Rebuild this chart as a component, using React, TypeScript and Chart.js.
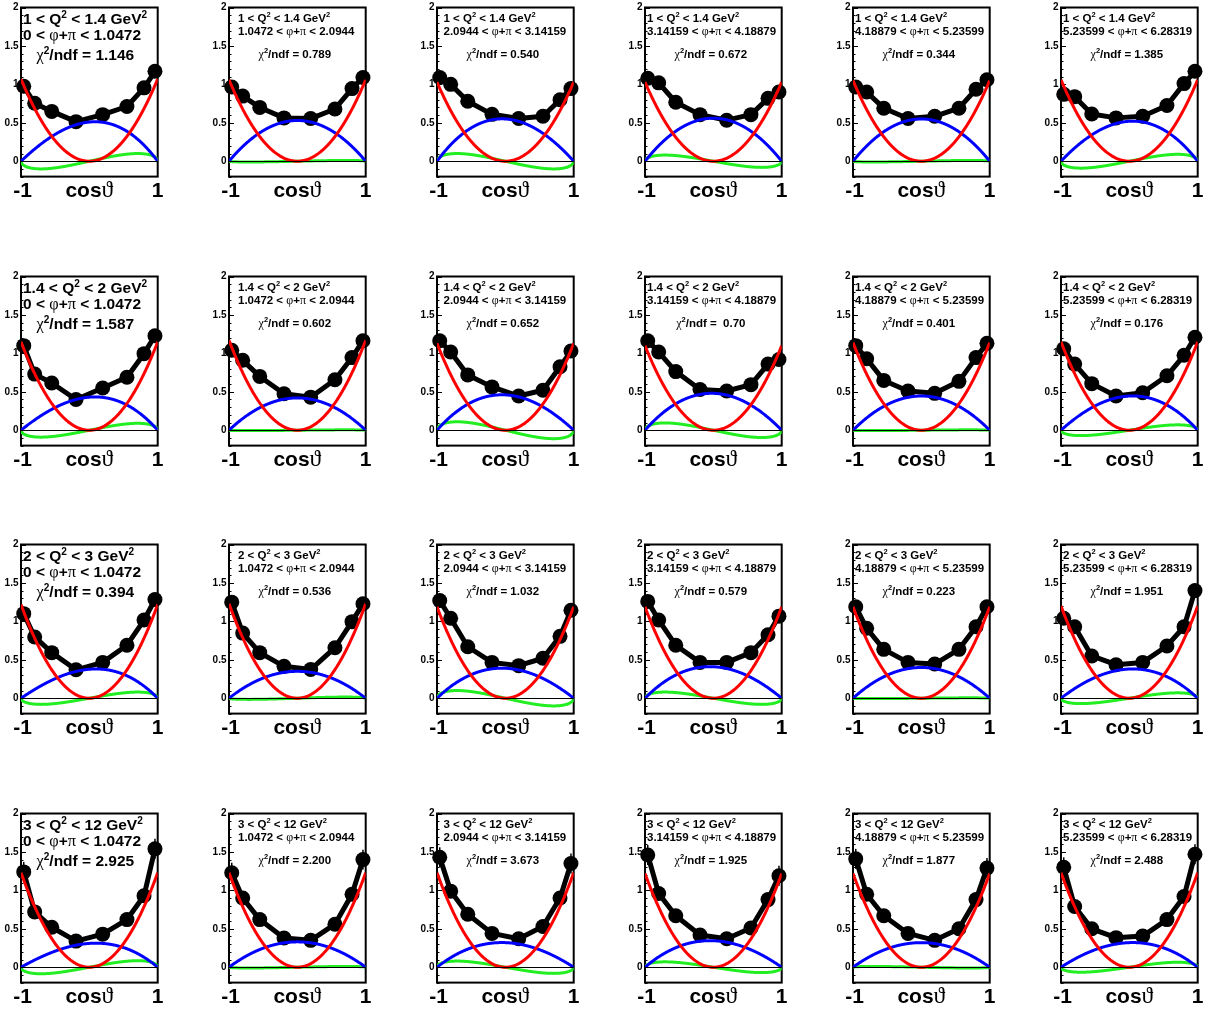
import React, { useEffect, useRef } from "react";
import { Chart, registerables } from "chart.js";

Chart.register(...registerables);

// ---------------- data ----------------
const cosThetaBins = [-0.96, -0.8, -0.55, -0.195, 0.195, 0.55, 0.8, 0.96];

const q2Labels = [
  "1 < Q^{2} < 1.4 GeV^{2}",
  "1.4 < Q^{2} < 2 GeV^{2}",
  "2 < Q^{2} < 3 GeV^{2}",
  "3 < Q^{2} < 12 GeV^{2}",
];
const phiLabels = [
  "0 < φ+π < 1.0472",
  "1.0472 < φ+π < 2.0944",
  "2.0944 < φ+π < 3.14159",
  "3.14159 < φ+π < 4.18879",
  "4.18879 < φ+π < 5.23599",
  "5.23599 < φ+π < 6.28319",
];

const chi2Q1 = ["1.146", "0.789", "0.540", "0.672", "0.344", "1.385"];
const chi2Q2 = ["1.587", "0.602", "0.652", " 0.70", "0.401", "0.176"];
const chi2Q3 = ["0.394", "0.536", "1.032", "0.579", "0.223", "1.951"];
const chi2Q4 = ["2.925", "2.200", "3.673", "1.925", "1.877", "2.488"];

// measured yields, one array per phi bin
const pointsQ1 = [
  [0.975, 0.754, 0.648, 0.515, 0.606, 0.712, 0.955, 1.17],
  [0.966, 0.847, 0.7, 0.564, 0.555, 0.68, 0.945, 1.09],
  [1.09, 1.0, 0.78, 0.61, 0.555, 0.585, 0.8, 0.945],
  [1.08, 1.02, 0.767, 0.606, 0.534, 0.606, 0.818, 0.9],
  [0.966, 0.9, 0.69, 0.555, 0.585, 0.69, 0.936, 1.06],
  [0.87, 0.84, 0.614, 0.564, 0.585, 0.725, 1.01, 1.17],
];
const pointsQ2 = [
  [1.1, 0.73, 0.614, 0.4, 0.55, 0.69, 0.996, 1.23],
  [1.04, 0.91, 0.7, 0.475, 0.43, 0.657, 0.945, 1.165],
  [1.165, 1.017, 0.72, 0.564, 0.445, 0.52, 0.826, 1.03],
  [1.165, 1.017, 0.763, 0.53, 0.51, 0.593, 0.86, 0.92],
  [1.1, 0.93, 0.648, 0.51, 0.48, 0.636, 0.945, 1.13],
  [1.06, 0.86, 0.606, 0.445, 0.487, 0.708, 0.975, 1.21],
];
const pointsQ3 = [
  [1.1, 0.797, 0.593, 0.37, 0.466, 0.69, 1.017, 1.284],
  [1.25, 0.847, 0.593, 0.415, 0.373, 0.657, 0.996, 1.23],
  [1.27, 1.04, 0.67, 0.466, 0.424, 0.52, 0.805, 1.144],
  [1.26, 1.017, 0.69, 0.466, 0.466, 0.593, 0.826, 1.068],
  [1.19, 0.91, 0.636, 0.466, 0.445, 0.636, 0.93, 1.19],
  [1.04, 0.93, 0.55, 0.436, 0.466, 0.68, 0.93, 1.4],
];
const pointsQ4 = [
  [1.24, 0.72, 0.52, 0.34, 0.43, 0.62, 0.93, 1.54],
  [1.23, 0.9, 0.62, 0.38, 0.35, 0.56, 0.95, 1.4],
  [1.43, 0.99, 0.69, 0.44, 0.37, 0.53, 0.9, 1.35],
  [1.46, 0.96, 0.67, 0.42, 0.37, 0.51, 0.88, 1.19],
  [1.41, 0.95, 0.67, 0.44, 0.35, 0.5, 0.88, 1.29],
  [1.3, 0.79, 0.5, 0.385, 0.405, 0.62, 0.92, 1.47],
];

// statistical errors per Q2 row (same for every phi bin of that row)
const errorsQ1 = [0.05, 0.03, 0.02, 0.02, 0.02, 0.02, 0.03, 0.05];
const errorsQ2 = [0.05, 0.03, 0.02, 0.02, 0.02, 0.02, 0.03, 0.05];
const errorsQ3 = [0.06, 0.03, 0.02, 0.02, 0.02, 0.02, 0.03, 0.06];
const errorsQ4 = [0.13, 0.04, 0.03, 0.03, 0.03, 0.03, 0.05, 0.13];

// fitted component amplitudes (red: cos^2, blue: sin^2, green: sin2θ)
const redAmpQ = [
  [1.07, 1.06, 1.03, 1.03, 1.05, 1.06],
  [1.15, 1.17, 1.13, 1.1, 1.14, 1.15],
  [1.22, 1.23, 1.19, 1.19, 1.19, 1.2],
  [1.23, 1.23, 1.23, 1.22, 1.22, 1.23],
];
const blueAmpQ = [
  [0.51, 0.53, 0.55, 0.56, 0.55, 0.52],
  [0.43, 0.42, 0.46, 0.48, 0.445, 0.445],
  [0.377, 0.35, 0.39, 0.41, 0.4, 0.38],
  [0.31, 0.33, 0.32, 0.345, 0.32, 0.32],
];
const blueSkewQ = [
  [0.17, 0, -0.1, 0, 0, 0.1],
  [0.17, 0, -0.1, -0.05, 0, 0.1],
  [0.2, 0, -0.1, -0.1, 0, 0.1],
  [0.2, 0, -0.1, -0.1, 0, 0.1],
];
const greenAmpQ = [
  [0.1, 0.01, -0.1, -0.08, 0.01, 0.09],
  [0.09, 0.005, -0.11, -0.095, 0.005, 0.07],
  [0.08, 0.015, -0.1, -0.08, 0.005, 0.07],
  [0.085, 0.01, -0.08, -0.07, -0.01, 0.065],
];

const yTickValues = [0, 0.5, 1, 1.5, 2];
const yTickLabels = ["0", "0.5", "1", "1.5", "2"];
const xTickLabels = ["-1", "1"];
const xTitle = "cosϑ";

const chi2Rows = [chi2Q1, chi2Q2, chi2Q3, chi2Q4];
const pointRows = [pointsQ1, pointsQ2, pointsQ3, pointsQ4];
const errorRows = [errorsQ1, errorsQ2, errorsQ3, errorsQ4];

// ---------------- layout ----------------
const PANEL_W = 208;
const PANEL_H = 210;
const ROW_TOPS = [0, 269, 537, 806];
const FRAME_L = 21;
const FRAME_R = 157.7;
const Y0 = 161;
const UNIT = 78;
const TEXT_X = [2, 9, 6.5, 2, 2, 2];

const SANS = '"Liberation Sans", Arial, Helvetica, sans-serif';
const SERIF = '"Liberation Serif", "DejaVu Serif", serif';
const GREEK = /[φπχϑ]/;

type Run = { t: string; font: string; dy: number };

function buildRuns(s: string, size: number, greekScale = 1.05): Run[] {
  const toks: { t: string; sup: boolean }[] = [];
  let i = 0;
  while (i < s.length) {
    if (s.startsWith("^{", i)) {
      const j = s.indexOf("}", i);
      toks.push({ t: s.slice(i + 2, j), sup: true });
      i = j + 1;
    } else {
      let j = i;
      while (j < s.length && !s.startsWith("^{", j)) j++;
      toks.push({ t: s.slice(i, j), sup: false });
      i = j;
    }
  }
  const runs: Run[] = [];
  for (const tok of toks) {
    const sz = tok.sup ? size * 0.65 : size;
    const dy = tok.sup ? -size * 0.38 : 0;
    let buf = "";
    let g: boolean | null = null;
    const push = () => {
      if (!buf) return;
      runs.push({
        t: buf,
        font: g ? `${sz * greekScale}px ${SERIF}` : `bold ${sz}px ${SANS}`,
        dy,
      });
      buf = "";
    };
    for (const ch of tok.t) {
      const isG = GREEK.test(ch);
      if (g !== null && isG !== g) push();
      g = isG;
      buf += ch;
    }
    push();
  }
  return runs;
}

function drawRich(
  ctx: CanvasRenderingContext2D,
  s: string,
  x: number,
  baseline: number,
  size: number,
  align: "left" | "center",
  greekScale = 1.05
) {
  const runs = buildRuns(s, size, greekScale);
  ctx.textAlign = "left";
  ctx.textBaseline = "alphabetic";
  let total = 0;
  const widths = runs.map((r) => {
    ctx.font = r.font;
    const w = ctx.measureText(r.t).width;
    total += w;
    return w;
  });
  let cx = align === "center" ? x - total / 2 : x;
  runs.forEach((r, k) => {
    ctx.font = r.font;
    ctx.fillText(r.t, cx, baseline + r.dy);
    cx += widths[k];
  });
}

function Panel({ row, col }: { row: number; col: number }) {
  const ref = useRef<HTMLCanvasElement | null>(null);

  useEffect(() => {
    const canvas = ref.current;
    if (!canvas) return;
    const pts = pointRows[row][col];
    const errs = errorRows[row];
    const A = redAmpQ[row][col];
    const B = blueAmpQ[row][col];
    const S = blueSkewQ[row][col];
    const G = greenAmpQ[row][col];

    const xs: number[] = [];
    for (let k = 0; k <= 200; k++) xs.push(-1 + k * 0.01);
    const red = xs.map((x) => ({ x, y: A * x * x }));
    const blue = xs.map((x) => ({ x, y: B * (1 - x * x) * (1 + S * x) }));
    const green = xs.map((x) => ({
      x,
      y: G * 2 * x * Math.sqrt(Math.max(0, 1 - x * x)),
    }));
    const black = cosThetaBins.map((x, k) => ({ x, y: pts[k] }));

    const big = col === 0;
    const size = big ? 15.5 : 11.5;
    const base = big ? [24, 39.5, 59.5] : [21.7, 35, 57.5];
    const chiShift = big ? -4 : -2.5;

    const plugin = {
      id: "rootPanel",
      beforeDatasetsDraw(chart: any) {
        const { ctx, chartArea: a } = chart;
        const ys = chart.scales.y;
        const xsc = chart.scales.x;
        ctx.save();
        ctx.strokeStyle = "#000";
        ctx.lineWidth = 2;
        ctx.strokeRect(a.left, a.top, a.right - a.left, a.bottom - a.top);
        ctx.lineWidth = 1;
        for (let k = -2; k <= 20; k++) {
          const py = Math.round(ys.getPixelForValue(k / 10)) + 0.5;
          const len = k % 5 === 0 ? 5 : 2.5;
          ctx.beginPath();
          ctx.moveTo(a.left, py);
          ctx.lineTo(a.left + len, py);
          ctx.stroke();
        }
        ctx.fillStyle = "#000";
        ctx.font = `bold 10px ${SANS}`;
        ctx.textAlign = "right";
        ctx.textBaseline = "middle";
        yTickValues.forEach((v, k) => {
          ctx.fillText(yTickLabels[k], a.left - 2.5, ys.getPixelForValue(v));
        });
        // error bars
        ctx.lineWidth = 1.5;
        cosThetaBins.forEach((x, k) => {
          const px = xsc.getPixelForValue(x);
          ctx.beginPath();
          ctx.moveTo(px, ys.getPixelForValue(pts[k] - errs[k]));
          ctx.lineTo(px, ys.getPixelForValue(pts[k] + errs[k]));
          ctx.stroke();
        });
        ctx.restore();
      },
      afterDatasetsDraw(chart: any) {
        const { ctx, chartArea: a } = chart;
        const ys = chart.scales.y;
        const xsc = chart.scales.x;
        ctx.save();
        ctx.strokeStyle = "#000";
        ctx.lineWidth = 1;
        const p0 = Math.round(ys.getPixelForValue(0)) + 0.5;
        ctx.beginPath();
        ctx.moveTo(a.left, p0);
        ctx.lineTo(a.right, p0);
        ctx.stroke();

        ctx.fillStyle = "#000";
        ctx.font = `bold 21px ${SANS}`;
        ctx.textAlign = "center";
        ctx.textBaseline = "alphabetic";
        ctx.fillText(xTickLabels[0], xsc.getPixelForValue(-1) + 1.5, 197);
        ctx.fillText(xTickLabels[1], xsc.getPixelForValue(1), 197);
        drawRich(ctx, xTitle, xsc.getPixelForValue(0), 197, 21, "center", 1.12);

        const tx = a.left + TEXT_X[col];
        drawRich(ctx, q2Labels[row], tx, base[0], size, "left");
        drawRich(ctx, phiLabels[col], tx, base[1], size, "left");
        drawRich(
          ctx,
          "χ^{2}/ndf = " + chi2Rows[row][col],
          (a.left + a.right) / 2 + chiShift,
          base[2],
          size,
          "center"
        );
        ctx.restore();
      },
    };

    const curveStyle = {
      borderWidth: 3,
      pointRadius: 0,
      tension: 0.3,
      borderJoinStyle: "round" as const,
    };

    const chart = new Chart(canvas, {
      type: "line",
      data: {
        datasets: [
          { data: red, borderColor: "#ff0000", ...curveStyle },
          { data: blue, borderColor: "#0000ff", ...curveStyle },
          { data: green, borderColor: "#22ee22", ...curveStyle },
          {
            data: black,
            borderColor: "#000000",
            backgroundColor: "#000000",
            borderWidth: 5,
            borderJoinStyle: "round",
            pointRadius: 7.5,
            pointBorderWidth: 0,
            pointBackgroundColor: "#000000",
            tension: 0,
            clip: false as any,
          },
        ],
      },
      options: {
        animation: false,
        responsive: false,
        maintainAspectRatio: false,
        devicePixelRatio: 1,
        events: [],
        layout: {
          padding: {
            left: FRAME_L,
            right: PANEL_W - FRAME_R,
            top: Y0 - 2 * UNIT,
            bottom: PANEL_H - (Y0 + 0.2 * UNIT),
          },
        },
        scales: {
          x: { type: "linear", min: -1, max: 1, display: false },
          y: { type: "linear", min: -0.2, max: 2, display: false },
        },
        plugins: {
          legend: { display: false },
          tooltip: { enabled: false },
        },
      },
      plugins: [plugin],
    } as any);

    return () => chart.destroy();
  }, [row, col]);

  return (
    <canvas
      ref={ref}
      width={PANEL_W}
      height={PANEL_H}
      style={{
        position: "absolute",
        left: col * PANEL_W,
        top: ROW_TOPS[row],
        width: PANEL_W,
        height: PANEL_H,
      }}
    />
  );
}

export default function App() {
  const cells: JSX.Element[] = [];
  for (let r = 0; r < 4; r++)
    for (let c = 0; c < 6; c++) cells.push(<Panel key={`${r}-${c}`} row={r} col={c} />);
  return (
    <div
      style={{
        position: "absolute",
        left: 0,
        top: 0,
        width: 1209,
        height: 1010,
        overflow: "hidden",
        background: "#fff",
      }}
    >
      {cells}
    </div>
  );
}
